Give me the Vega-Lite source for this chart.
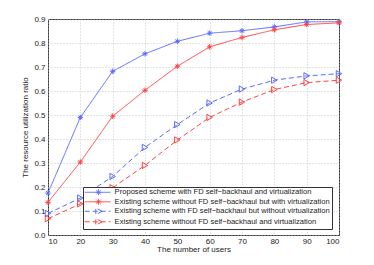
{
  "$schema": "https://vega.github.io/schema/vega-lite/v6.json",
  "width": 291,
  "height": 216,
  "autosize": "none",
  "padding": {"left": 48, "top": 19, "right": 35, "bottom": 30},
  "background": "white",
  "config": {
    "font": "Liberation Sans",
    "view": {"stroke": "#333", "strokeWidth": 1},
    "axis": {
      "labelFont": "Liberation Sans", "titleFont": "Liberation Sans",
      "labelFontSize": 8, "titleFontSize": 8, "titleFontWeight": "normal",
      "labelColor": "#222", "titleColor": "#222",
      "domain": false, "ticks": false,
      "grid": true, "gridColor": "#bbb", "gridDash": [1, 2], "gridWidth": 0.8
    },
    "legend": {
      "labelFont": "Liberation Sans", "labelFontSize": 7.6, "labelColor": "#222"
    }
  },
  "data": {
    "values": [
      {"users": 10, "ratio": 0.175, "series": "Proposed scheme with FD self−backhaul and virtualization"},
      {"users": 20, "ratio": 0.49, "series": "Proposed scheme with FD self−backhaul and virtualization"},
      {"users": 30, "ratio": 0.682, "series": "Proposed scheme with FD self−backhaul and virtualization"},
      {"users": 40, "ratio": 0.755, "series": "Proposed scheme with FD self−backhaul and virtualization"},
      {"users": 50, "ratio": 0.807, "series": "Proposed scheme with FD self−backhaul and virtualization"},
      {"users": 60, "ratio": 0.841, "series": "Proposed scheme with FD self−backhaul and virtualization"},
      {"users": 70, "ratio": 0.851, "series": "Proposed scheme with FD self−backhaul and virtualization"},
      {"users": 80, "ratio": 0.867, "series": "Proposed scheme with FD self−backhaul and virtualization"},
      {"users": 90, "ratio": 0.888, "series": "Proposed scheme with FD self−backhaul and virtualization"},
      {"users": 100, "ratio": 0.889, "series": "Proposed scheme with FD self−backhaul and virtualization"},
      {"users": 10, "ratio": 0.136, "series": "Existing scheme without FD self−backhaul but with virtualization"},
      {"users": 20, "ratio": 0.304, "series": "Existing scheme without FD self−backhaul but with virtualization"},
      {"users": 30, "ratio": 0.495, "series": "Existing scheme without FD self−backhaul but with virtualization"},
      {"users": 40, "ratio": 0.603, "series": "Existing scheme without FD self−backhaul but with virtualization"},
      {"users": 50, "ratio": 0.703, "series": "Existing scheme without FD self−backhaul but with virtualization"},
      {"users": 60, "ratio": 0.784, "series": "Existing scheme without FD self−backhaul but with virtualization"},
      {"users": 70, "ratio": 0.823, "series": "Existing scheme without FD self−backhaul but with virtualization"},
      {"users": 80, "ratio": 0.855, "series": "Existing scheme without FD self−backhaul but with virtualization"},
      {"users": 90, "ratio": 0.877, "series": "Existing scheme without FD self−backhaul but with virtualization"},
      {"users": 100, "ratio": 0.884, "series": "Existing scheme without FD self−backhaul but with virtualization"},
      {"users": 10, "ratio": 0.09, "series": "Existing scheme with FD self−backhaul but without virtualization"},
      {"users": 20, "ratio": 0.154, "series": "Existing scheme with FD self−backhaul but without virtualization"},
      {"users": 30, "ratio": 0.244, "series": "Existing scheme with FD self−backhaul but without virtualization"},
      {"users": 40, "ratio": 0.365, "series": "Existing scheme with FD self−backhaul but without virtualization"},
      {"users": 50, "ratio": 0.46, "series": "Existing scheme with FD self−backhaul but without virtualization"},
      {"users": 60, "ratio": 0.55, "series": "Existing scheme with FD self−backhaul but without virtualization"},
      {"users": 70, "ratio": 0.608, "series": "Existing scheme with FD self−backhaul but without virtualization"},
      {"users": 80, "ratio": 0.645, "series": "Existing scheme with FD self−backhaul but without virtualization"},
      {"users": 90, "ratio": 0.663, "series": "Existing scheme with FD self−backhaul but without virtualization"},
      {"users": 100, "ratio": 0.672, "series": "Existing scheme with FD self−backhaul but without virtualization"},
      {"users": 10, "ratio": 0.068, "series": "Existing scheme without FD self−backhaul and virtualization"},
      {"users": 20, "ratio": 0.13, "series": "Existing scheme without FD self−backhaul and virtualization"},
      {"users": 30, "ratio": 0.197, "series": "Existing scheme without FD self−backhaul and virtualization"},
      {"users": 40, "ratio": 0.29, "series": "Existing scheme without FD self−backhaul and virtualization"},
      {"users": 50, "ratio": 0.396, "series": "Existing scheme without FD self−backhaul and virtualization"},
      {"users": 60, "ratio": 0.49, "series": "Existing scheme without FD self−backhaul and virtualization"},
      {"users": 70, "ratio": 0.554, "series": "Existing scheme without FD self−backhaul and virtualization"},
      {"users": 80, "ratio": 0.606, "series": "Existing scheme without FD self−backhaul and virtualization"},
      {"users": 90, "ratio": 0.635, "series": "Existing scheme without FD self−backhaul and virtualization"},
      {"users": 100, "ratio": 0.645, "series": "Existing scheme without FD self−backhaul and virtualization"}
    ]
  },
  "encoding": {
    "x": {
      "field": "users", "type": "quantitative",
      "scale": {"domain": [10, 100], "nice": false},
      "axis": {"values": [10, 20, 30, 40, 50, 60, 70, 80, 90, 100], "title": "The number of users", "labelPadding": 2, "titlePadding": 0}
    },
    "y": {
      "field": "ratio", "type": "quantitative",
      "scale": {"domain": [0, 0.9], "nice": false},
      "axis": {"values": [0, 0.1, 0.2, 0.3, 0.4, 0.5, 0.6, 0.7, 0.8, 0.9], "title": "The resource utilization ratio", "labelPadding": 3, "titlePadding": 4}
    },
    "color": {
      "field": "series", "type": "nominal",
      "scale": {
        "domain": [
          "Proposed scheme with FD self−backhaul and virtualization",
          "Existing scheme without FD self−backhaul but with virtualization",
          "Existing scheme with FD self−backhaul but without virtualization",
          "Existing scheme without FD self−backhaul and virtualization"
        ],
        "range": ["#5a6cff", "#ff4444", "#5a6cff", "#ff4444"]
      },
      "legend": {
        "title": null,
        "orient": "none",
        "legendX": 35,
        "legendY": 168,
        "fillColor": "white",
        "strokeColor": "#333",
        "padding": 1.5,
        "rowPadding": -1.5,
        "symbolSize": 36,
        "symbolStrokeWidth": 1,
        "labelOffset": 22.5,
        "labelLimit": 400,
        "encode": {
          "symbols": {
            "update": {
              "shape": {"signal": "indexof(datum.value, 'Proposed') >= 0 || indexof(datum.value, 'but with virt') >= 0 ? 'M-1.2,0H7.4M2.4,0H4.4M3.4,-1V1M2.7,-0.7L4.1,0.7M2.7,0.7L4.1,-0.7' : 'M-1.2,0H7.4M4.6,0L2.5,-1.1L2.5,1.1Z'"},
              "fill": {"value": "transparent"},
              "fillOpacity": {"value": 0}
            }
          }
        }
      }
    }
  },
  "layer": [
    {
      "mark": {"type": "line", "strokeWidth": 1},
      "encoding": {
        "strokeDash": {
          "field": "series", "type": "nominal",
          "scale": {
            "domain": [
              "Proposed scheme with FD self−backhaul and virtualization",
              "Existing scheme without FD self−backhaul but with virtualization",
              "Existing scheme with FD self−backhaul but without virtualization",
              "Existing scheme without FD self−backhaul and virtualization"
            ],
            "range": [[1, 0], [1, 0], [5, 3], [5, 3]]
          }
        }
      }
    },
    {
      "transform": [{"filter": "indexof(datum.series, 'Proposed') >= 0 || indexof(datum.series, 'but with virt') >= 0"}],
      "mark": {"type": "point", "filled": false, "strokeWidth": 1, "opacity": 1, "size": 30, "shape": "M-1,0H1M0,-1V1M-0.7,-0.7L0.7,0.7M-0.7,0.7L0.7,-0.7"}
    },
    {
      "transform": [{"filter": "!(indexof(datum.series, 'Proposed') >= 0 || indexof(datum.series, 'but with virt') >= 0)"}],
      "mark": {"type": "point", "filled": false, "strokeWidth": 1, "opacity": 1, "size": 40, "shape": "triangle-right"}
    }
  ]
}
